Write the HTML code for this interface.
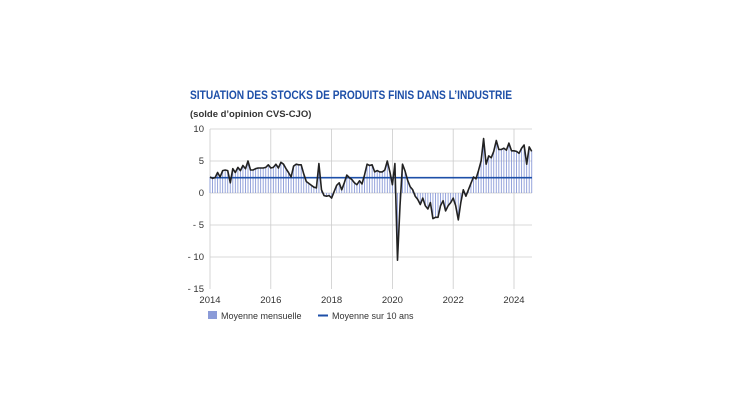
<!DOCTYPE html>
<html><head><meta charset="utf-8"><style>
body{margin:0;background:#fff;width:730px;height:410px;overflow:hidden;font-family:"Liberation Sans",sans-serif}
</style></head><body>
<svg id="s" width="730" height="410" xmlns="http://www.w3.org/2000/svg" font-family="Liberation Sans, sans-serif">
<text x="190" y="99" font-size="12" font-weight="bold" fill="#1d4fa8" textLength="322" lengthAdjust="spacingAndGlyphs">SITUATION DES STOCKS DE PRODUITS FINIS DANS L’INDUSTRIE</text>
<text x="190" y="117" font-size="9.5" font-weight="bold" fill="#333">(solde d’opinion CVS-CJO)</text>
<g id="g"></g>
<rect x="208" y="311" width="9" height="8" fill="#8b9bd8"/>
<text x="221" y="319" font-size="9" fill="#333">Moyenne mensuelle</text>
<line x1="318" y1="315.5" x2="328" y2="315.5" stroke="#1d4fa8" stroke-width="2"/>
<text x="332" y="319" font-size="9" fill="#333">Moyenne sur 10 ans</text>
</svg>
<script>
var d=[2.5,2.3,2.4,3.2,2.5,3.5,3.6,3.5,1.6,3.8,3.2,4.0,
3.5,4.3,3.8,5.0,3.6,3.6,3.8,3.9,3.9,3.9,4.0,4.4,
3.9,4.0,4.5,3.9,4.8,4.5,3.8,3.2,2.5,4.2,4.5,4.4,
4.4,3.0,1.8,1.5,1.2,0.9,0.8,4.6,0.5,-0.4,-0.5,-0.4,
-0.8,0.2,1.2,1.6,0.5,1.6,2.8,2.4,2.1,1.6,1.3,1.9,
1.4,2.8,4.5,4.3,4.4,3.3,3.5,3.3,3.3,3.6,5.0,3.3,
1.3,4.6,-10.5,-2,4.5,3.4,2.0,1.0,0.5,-0.5,-1.0,-1.8,
-0.8,-2.0,-2.5,-1.5,-4.0,-3.8,-3.8,-2.0,-1.2,-2.8,-2.0,-1.5,
-0.8,-2.0,-4.2,-1.5,0.5,-0.5,0.5,1.5,2.5,2.2,3.5,5.0,
8.5,4.5,5.8,5.5,6.5,8.2,6.8,6.8,7.0,6.7,7.8,6.6,
6.6,6.5,6.2,7.0,7.5,4.5,7.2,6.5];
var X=m=>210+m*(304/120),Y=v=>193-v*6.4;
var h='';
[10,5,0,-5,-10].forEach(v=>{h+='<line x1="210" x2="532" y1="'+Y(v)+'" y2="'+Y(v)+'" stroke="#ccc" stroke-width="0.8"/>';});
for(var yr=0;yr<=5;yr++){var x=X(yr*24);h+='<line x1="'+x+'" x2="'+x+'" y1="129" y2="289" stroke="#ccc" stroke-width="0.8"/>';h+='<text x="'+x+'" y="303" font-size="9.5" fill="#333" text-anchor="middle">'+(2014+yr*2)+'</text>';}
[[10,'10'],[5,'5'],[0,'0'],[-5,'- 5'],[-10,'- 10'],[-15,'- 15']].forEach(a=>{h+='<text x="204" y="'+(Y(a[0])+3)+'" font-size="9.5" fill="#333" text-anchor="end">'+a[1]+'</text>';});
d.forEach((v,i)=>{h+='<line x1="'+X(i)+'" x2="'+X(i)+'" y1="193" y2="'+Y(v)+'" stroke="#8b9bd8" stroke-width="0.9"/>';});
h+='<line x1="210" x2="532" y1="'+Y(2.4)+'" y2="'+Y(2.4)+'" stroke="#1d4fa8" stroke-width="1.6"/>';
h+='<polyline fill="none" stroke="#222" stroke-width="1.6" stroke-linejoin="round" points="'+d.map((v,i)=>X(i).toFixed(1)+','+Y(v).toFixed(1)).join(' ')+'"/>';
document.getElementById('g').innerHTML=h;
</script>
</body></html>
